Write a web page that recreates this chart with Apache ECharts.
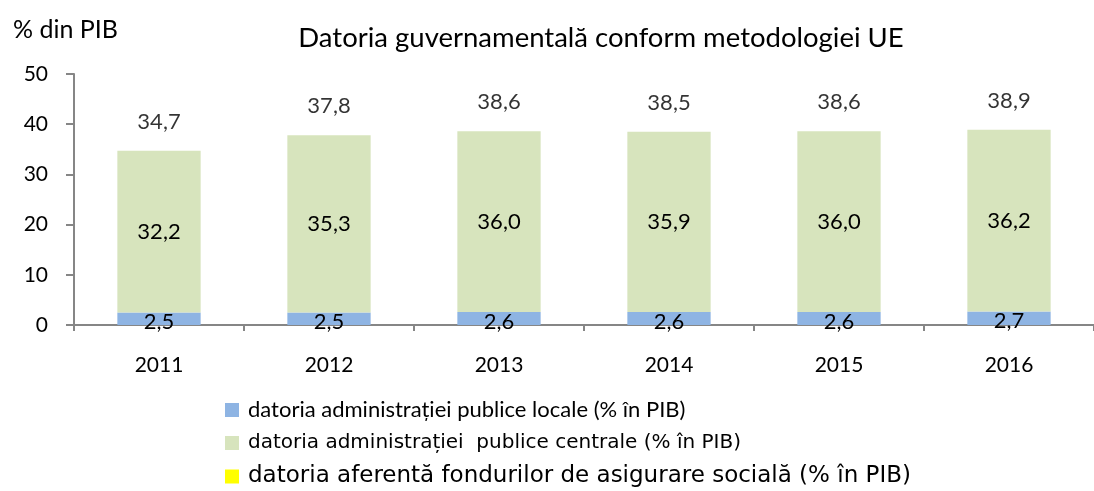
<!DOCTYPE html>
<html>
<head>
<meta charset="utf-8">
<script src="https://cdn.jsdelivr.net/npm/echarts@6/dist/echarts.min.js"></script>
<style>
html,body{margin:0;padding:0;background:#fff;}
#chart{width:1094px;height:491px;}
</style>
</head>
<body>
<div id="chart"></div>
<script>
const years = ['2011', '2012', '2013', '2014', '2015', '2016'];
const localDebt = [2.5, 2.5, 2.6, 2.6, 2.6, 2.7];
const centralDebt = [32.2, 35.3, 36.0, 35.9, 36.0, 36.2];
const socialDebt = [0, 0, 0, 0, 0, 0];
const totalDebt = [34.7, 37.8, 38.6, 38.5, 38.6, 38.9];
const yTicks = [0, 10, 20, 30, 40, 50];

const nameLocal = 'datoria administrației publice locale (% în PIB)';
const nameCentral = 'datoria administrației  publice centrale (% în PIB)';
const nameSocial = 'datoria aferentă fondurilor de asigurare socială (% în PIB)';

const FONT = 'Lato';
const fmt = v => v.toFixed(1).replace('.', ',');
const axisColor = '#868686';

const chart = echarts.init(document.getElementById('chart'), null, {renderer: 'canvas'});
const option = {
  animation: false,
  backgroundColor: '#ffffff',
  textStyle: {fontFamily: FONT, color: '#000'},
  title: [
    {text: 'Datoria guvernamentală conform metodologiei UE', left: 596, top: 19, textAlign: 'center',
     textStyle: {fontFamily: FONT, fontSize: 27.5, fontWeight: 'normal', color: '#000'}},
    {text: '% din PIB', left: 8, top: 12,
     textStyle: {fontFamily: FONT, fontSize: 25, fontWeight: 'normal', color: '#000'}}
  ],
  grid: {left: 74, right: 0, top: 74, bottom: 166, containLabel: false},
  legend: [
    {data: [nameLocal], left: 225, top: 399, padding: 0, itemWidth: 14, itemHeight: 14, icon: 'rect',
     textStyle: {fontFamily: FONT, fontSize: 22, color: '#000', padding: [0, 0, 0, 4]}},
    {data: [nameCentral], left: 225, top: 433, padding: 0, itemWidth: 14, itemHeight: 14, icon: 'rect',
     textStyle: {fontFamily: 'DejaVu Sans', fontSize: 20, color: '#000', padding: [0, 0, 0, 4]}},
    {data: [nameSocial], left: 225, top: 465, padding: 0, itemWidth: 14, itemHeight: 14, icon: 'rect',
     textStyle: {fontFamily: 'DejaVu Sans', fontSize: 23, color: '#000', padding: [0, 0, 0, 4]}}
  ],
  xAxis: {
    type: 'category', data: years, boundaryGap: true,
    axisLine: {lineStyle: {color: axisColor, width: 2}},
    axisTick: {show: true, length: 6, lineStyle: {color: axisColor, width: 2}},
    axisLabel: {fontFamily: FONT, fontSize: 21, color: '#000', margin: 30}
  },
  yAxis: {
    type: 'value', min: 0, max: 50, interval: 10,
    axisLine: {show: true, lineStyle: {color: axisColor, width: 2}},
    axisTick: {show: true, length: 8, lineStyle: {color: axisColor, width: 2}},
    splitLine: {show: false},
    axisLabel: {fontFamily: FONT, fontSize: 21, color: '#000', margin: 26,
      formatter: v => yTicks.includes(v) ? String(v) : ''}
  },
  series: [
    {name: nameLocal, type: 'bar', stack: 'd', data: localDebt, barWidth: '49%',
     itemStyle: {color: '#8EB4E3'},
     label: {show: true, position: 'inside', offset: [0, 3], formatter: p => fmt(p.value),
       fontFamily: FONT, fontSize: 22, color: '#000'}},
    {name: nameCentral, type: 'bar', stack: 'd', data: centralDebt, barWidth: '49%',
     itemStyle: {color: '#D7E4BD'},
     label: {show: true, position: 'inside', formatter: p => fmt(p.value),
       fontFamily: FONT, fontSize: 22, color: '#000'}},
    {name: nameSocial, type: 'bar', stack: 'd', data: socialDebt, barWidth: '49%',
     itemStyle: {color: '#FFFF00'}, label: {show: false}},
    {name: 'total', type: 'scatter', data: totalDebt, symbolSize: 0.1,
     itemStyle: {color: 'rgba(0,0,0,0)'},
     label: {show: true, position: 'top', distance: 18, formatter: p => fmt(p.value),
       fontFamily: FONT, fontSize: 22, color: '#000'}}
  ]
};
chart.setOption(option);
</script>
</body>
</html>
